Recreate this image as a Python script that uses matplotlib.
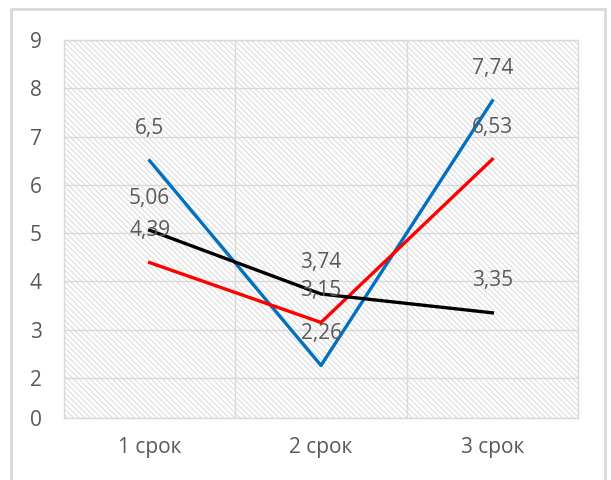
import matplotlib
matplotlib.use("Agg")
import matplotlib.pyplot as plt
from matplotlib.patches import Rectangle

# data
cats = ["1 срок", "2 срок", "3 срок"]
blue = [6.5, 2.26, 7.74]
red = [4.39, 3.15, 6.53]
black = [5.06, 3.74, 3.35]
blue_lbl = ["6,5", "2,26", "7,74"]
red_lbl = ["4,39", "3,15", "6,53"]
black_lbl = ["5,06", "3,74", "3,35"]
ytick_vals = [2, 3, 4, 5, 6, 7, 8, 9]

plt.rcParams['font.family'] = ['Open Sans', 'DejaVu Sans']
plt.rcParams['hatch.linewidth'] = 0.9
txt = "#595959"
grid = "#d9d9d9"

fig = plt.figure(figsize=(6.11, 4.8), dpi=100)
ax = fig.add_axes([64/611, 1 - 418/480, (578 - 64)/611, (418 - 40)/480])

# hatched plot area
ax.add_patch(Rectangle((0, 0), 1, 1, transform=ax.transAxes, facecolor="white",
                       edgecolor="#e0e0e0", hatch="\\" * 6, lw=0, zorder=0))

x = list(range(len(cats)))
ax.plot(x, blue, color="#0070C0", lw=2.4, zorder=3)
ax.plot(x, red, color="#FF0000", lw=2.4, zorder=3)
ax.plot(x, black, color="#000000", lw=2.4, zorder=3)

for vals, lbls in [(blue, blue_lbl), (red, red_lbl), (black, black_lbl)]:
    for xi, v, l in zip(x, vals, lbls):
        ax.annotate(l, (xi, v), xytext=(0, 23), textcoords="offset points",
                    ha="center", va="center", fontsize=15, color=txt, zorder=4)

ylo = 2 - 40/48.3
ax.set_ylim(ylo, 9)
ax.set_xlim(-0.5, 2.5)
ax.set_yticks([ylo] + ytick_vals)
ax.set_yticklabels(["0"] + [str(v) for v in ytick_vals])
ax.set_xticks(x)
ax.set_xticklabels(cats)
ax.set_xticks([0.5, 1.5], minor=True)
ax.tick_params(axis="both", which="both", length=0, labelsize=15, colors=txt)
ax.tick_params(axis="y", pad=16)
ax.tick_params(axis="x", pad=14)
ax.grid(axis="y", which="major", color=grid, lw=1, zorder=1)
ax.grid(axis="x", which="minor", color=grid, lw=1, zorder=1)
for s in ax.spines.values():
    s.set_color(grid)
    s.set_linewidth(1)

# chart border
fig.patches.append(Rectangle((11/611, -0.1), 594/611, 1.1 - 9/480,
                             transform=fig.transFigure, fill=False,
                             edgecolor="#d9d9d9", lw=2))

fig.savefig("out.png", dpi=100)
